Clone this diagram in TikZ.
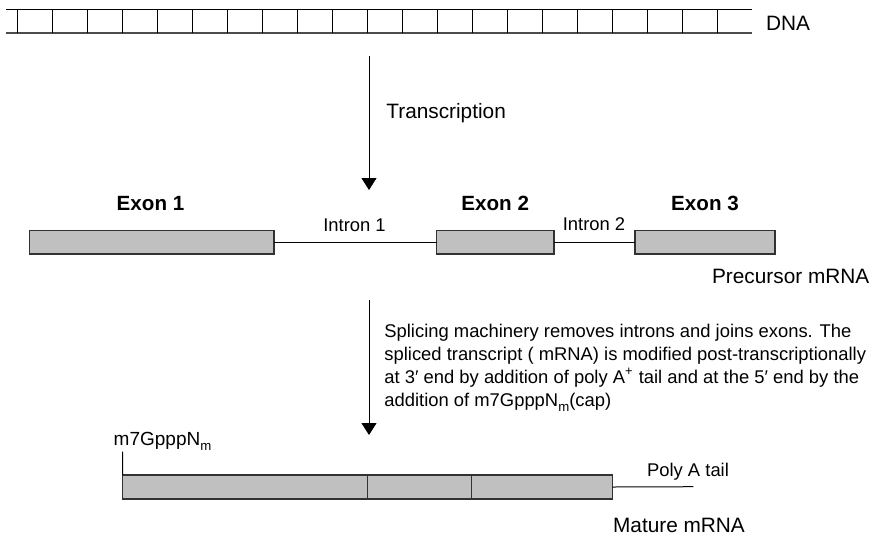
\documentclass[tikz,border=0pt]{standalone}
\usepackage{fontspec}
\setmainfont{Liberation Sans}
\usepackage{xcolor}
\usepackage{tikz}
\usetikzlibrary{arrows.meta, positioning}
\definecolor{exongray}{RGB}{192,192,192}
\definecolor{rimgray}{RGB}{50,50,50}
\newcommand{\capsub}{\raisebox{-2.6pt}{\fontsize{6.6}{7}\selectfont m}}
\tikzset{
  exonbox/.style={draw=rimgray, fill=exongray, line width=0.7pt, inner sep=0pt, outer sep=0pt, minimum height=11.7pt},
  bigtxt/.style={inner sep=0pt, font=\fontsize{10.4}{12}\selectfont},
  smalltxt/.style={inner sep=0pt, font=\fontsize{9.2}{11.4}\selectfont},
  exontxt/.style={inner sep=0pt, font=\fontsize{10.3}{12}\selectfont\bfseries},
  flowarrow/.style={-{Triangle[width=7.5pt,length=6pt]}, line width=0.5pt}
}

\begin{document}
\begin{tikzpicture}[x=0.5pt,y=-0.5pt]
  \useasboundingbox (0,0) rectangle (876,536);
  % DNA ladder
  \draw[line width=0.6pt] (6,9.5) -- (752,9.5);
  \draw[line width=1pt, black!70] (6,32.7) -- (752,32.7);
  \foreach \i in {0,...,20} {
    \draw[line width=0.6pt] (17.5+35*\i,9.5) -- (17.5+35*\i,32.7);
  }
  \node[bigtxt, anchor=base west] (dna) at (765.7,30) {DNA};

  % transcription
  \coordinate (tr1) at (369,56);
  \coordinate (tr2) at (369,190);
  \draw[flowarrow] (tr1) -- (tr2);
  \node[bigtxt, anchor=base west] (trlbl) at (386,118.3) {Transcription};

  % precursor mRNA
  \node[exonbox, minimum width=122.35pt] (ex1) at (151.65,242.35) {};
  \node[exonbox, minimum width=58.65pt] (ex2) at (495.35,242.35) {};
  \node[exonbox, minimum width=70pt] (ex3) at (705,242.35) {};
  \draw[line width=0.5pt] (ex1) -- (ex2);
  \draw[line width=0.5pt] (ex2) -- (ex3);
  \node[exontxt, anchor=base] (ex1lbl) at (150.5,210.7) {Exon 1};
  \node[exontxt, anchor=base] (ex2lbl) at (495.2,210.7) {Exon 2};
  \node[exontxt, anchor=base] (ex3lbl) at (705,210.7) {Exon 3};
  \node[smalltxt, anchor=base] (in1lbl) at (354.5,231.2) {Intron 1};
  \node[smalltxt, anchor=base] (in2lbl) at (594,230.7) {Intron 2};
  \node[bigtxt, anchor=base west] (prelbl) at (711.7,283.3) {Precursor mRNA};

  % splicing
  \coordinate (sp1) at (369,300);
  \coordinate (sp2) at (369,435);
  \draw[flowarrow] (sp1) -- (sp2);
  \node[smalltxt, anchor=base west, align=left] (splbl) at (384,406)
    {Splicing machinery removes introns and joins exons. The\\
     spliced transcript ( mRNA) is modified post-transcriptionally\\
     at 3′ end by addition of poly A\textsuperscript{+} tail and at the 5′ end by the\\
     addition of m7GpppN\capsub(cap)};

  % mature mRNA
  \node[exonbox, minimum width=122.3pt, minimum height=12pt] (m1) at (245,487) {};
  \node[exonbox, minimum width=52.2pt, minimum height=12pt, right=0pt of m1] (m2) {};
  \node[exonbox, minimum width=70.3pt, minimum height=12pt, right=0pt of m2] (m3) {};
  \coordinate (captop) at (122.7,451.7);
  \coordinate (tailend) at (693.3,486.7);
  \draw[line width=0.5pt] (m1.north west) -- (captop);
  \draw[line width=0.5pt] (m3.east) -- (tailend);
  \node[smalltxt, font=\fontsize{9.5}{11.4}\selectfont, anchor=base west] (caplbl) at (113.3,445) {m7GpppN\capsub};
  \node[smalltxt, anchor=base west] (taillbl) at (646.7,476.7) {Poly A tail};
  \node[bigtxt, anchor=base west] (matlbl) at (612.7,532.7) {Mature mRNA};
\end{tikzpicture}
\end{document}
